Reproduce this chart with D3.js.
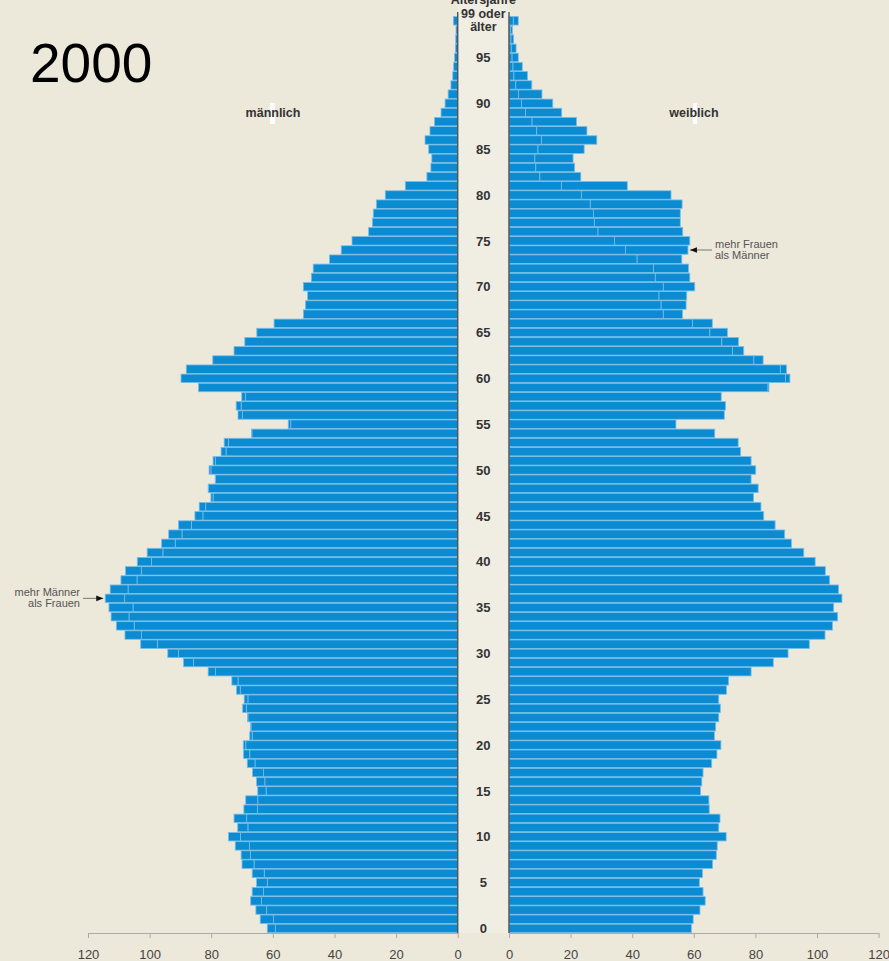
<!DOCTYPE html>
<html>
<head>
<meta charset="utf-8">
<script src="https://cdn.jsdelivr.net/npm/d3@7"></script>
<style>
  body { margin: 0; background: #ece8da; }
  svg { display: block; font-family: "Liberation Sans", Arial, sans-serif; }
</style>
</head>
<body>
<svg width="889" height="961"></svg>
<script>
// age 0 .. 99 (99 = "99 oder älter")
const ages = d3.range(0, 100)

// thousands, index = age
const males = [
  61.8, 64.1, 65.5, 67.2, 66.7, 65.3, 66.7, 70.0, 70.3, 72.2,
  74.4, 71.4, 72.6, 69.4, 68.8, 64.9, 65.3, 66.6, 68.3, 69.5,
  69.6, 67.5, 67.3, 68.2, 69.8, 69.3, 71.8, 73.3, 81.0, 89.0,
  94.1, 102.9, 108.0, 110.8, 112.5, 113.2, 114.4, 112.8, 109.3, 107.8,
  104.0, 100.8, 96.1, 93.8, 90.6, 85.3, 83.9, 80.1, 81.0, 78.7,
  80.7, 79.4, 76.8, 75.8, 66.9, 55.0, 71.3, 71.9, 70.1, 84.1,
  89.8, 88.1, 79.5, 72.6, 69.1, 65.2, 59.6, 50.1, 49.4, 48.7,
  50.1, 47.5, 46.9, 41.6, 37.8, 34.3, 28.9, 27.7, 27.4, 26.4,
  23.5, 17.0, 10.0, 8.7, 8.4, 9.4, 10.6, 9.0, 7.5, 5.4,
  4.1, 3.1, 2.2, 1.6, 1.3, 1.0, 0.75, 0.65, 0.55, 1.4
]
const females = [
  59.2, 59.8, 62.0, 63.7, 63.0, 61.8, 62.8, 66.1, 67.3, 67.6,
  70.5, 68.1, 68.5, 65.0, 64.9, 62.2, 62.6, 63.0, 65.8, 67.5,
  68.8, 66.7, 67.1, 68.1, 68.6, 68.1, 70.6, 71.3, 78.6, 85.8,
  90.6, 97.5, 102.6, 105.0, 106.7, 105.4, 108.1, 107.0, 104.1, 102.7,
  99.4, 95.7, 91.7, 89.5, 86.4, 82.7, 81.8, 79.4, 80.9, 78.6,
  80.1, 78.6, 75.2, 74.4, 66.8, 54.2, 69.9, 70.3, 68.9, 84.4,
  91.2, 90.1, 82.5, 76.2, 74.5, 70.9, 66.0, 56.3, 57.5, 57.7,
  60.3, 58.7, 58.3, 56.1, 58.1, 58.7, 56.4, 55.6, 55.6, 56.2,
  52.6, 38.4, 23.3, 21.3, 20.8, 24.4, 28.5, 25.3, 21.9, 17.1,
  14.2, 10.7, 7.4, 6.0, 4.3, 3.0, 2.3, 1.5, 1.1, 3.0
]

const ageTicks = [0, 5, 10, 15, 20, 25, 30, 35, 40, 45, 50, 55, 60, 65, 70, 75, 80, 85, 90, 95]
const valueTicks = [0, 20, 40, 60, 80, 100, 120]

let svg = d3.select("svg")

let y = d3.scaleBand().domain(ages).range([932.6, 16.6]).paddingInner(0.08)
let xM = d3.scaleLinear().domain([0, 120]).range([457.7, 88])
let xF = d3.scaleLinear().domain([0, 120]).range([509, 878.6])

const blue = "#0a8bd2"
const edge = "#76bde9"

// middle strip
svg.append("rect")
  .attr("x", xM(0)).attr("y", 0)
  .attr("width", xF(0) - xM(0)).attr("height", 933)
  .attr("fill", "#f0ede3")

let rows = ages.map(a => ({age: a, m: males[a], f: females[a], lo: Math.min(males[a], females[a])}))

function drawSide(x, key, cls) {
  let g = svg.append("g").attr("class", cls)
  // common part up to the smaller value
  g.selectAll("rect.base")
    .data(rows)
    .enter().append("rect")
      .attr("class", "base")
      .attr("x", d => Math.min(x(0), x(d.lo)))
      .attr("width", d => Math.abs(x(d.lo) - x(0)))
      .attr("y", d => y(d.age))
      .attr("height", y.bandwidth())
      .attr("fill", blue)
      .attr("stroke", edge)
      .attr("stroke-width", 0.8)
  // surplus beyond the other sex
  g.selectAll("rect.extra")
    .data(rows.filter(d => d[key] > d.lo))
    .enter().append("rect")
      .attr("class", "extra")
      .attr("x", d => Math.min(x(d.lo), x(d[key])))
      .attr("width", d => Math.abs(x(d[key]) - x(d.lo)))
      .attr("y", d => y(d.age))
      .attr("height", y.bandwidth())
      .attr("fill", blue)
      .attr("stroke", edge)
      .attr("stroke-width", 0.8)
}
drawSide(xM, "m", "male")
drawSide(xF, "f", "female")

// dark inner edges
;[xM(0), xF(0)].forEach(px => {
  svg.append("line")
    .attr("x1", px).attr("x2", px)
    .attr("y1", 12).attr("y2", 933)
    .attr("stroke", "#555").attr("stroke-width", 1.4)
})

// age labels in the middle
let midX = (xM(0) + xF(0)) / 2
svg.append("g").selectAll("text")
  .data(ageTicks)
  .enter().append("text")
    .attr("x", midX)
    .attr("y", d => y(d) + y.bandwidth() / 2)
    .attr("dy", "0.36em")
    .attr("text-anchor", "middle")
    .attr("font-size", 13)
    .attr("font-weight", "bold")
    .attr("fill", "#333")
    .text(d => d)

let topLabels = svg.append("g").attr("text-anchor", "middle").attr("font-weight", "bold")
  .attr("font-size", 12.5).attr("fill", "#333")
topLabels.append("text").attr("x", midX).attr("y", 4).text("Altersjahre")
topLabels.append("text").attr("x", midX).attr("y", 18).text("99 oder")
topLabels.append("text").attr("x", midX).attr("y", 31).text("älter")

// bottom axes
function axis(x) {
  let g = svg.append("g")
    .attr("transform", "translate(0,933)")
    .call(d3.axisBottom(x).tickValues(valueTicks).tickSize(5).tickPadding(12).tickSizeOuter(0))
  g.select(".domain").attr("stroke", "#aaa")
  g.selectAll(".tick line").attr("stroke", "#aaa")
  g.selectAll(".tick text").attr("fill", "#444").attr("font-size", 13)
    .attr("font-family", "Liberation Sans, Arial, sans-serif")
}
axis(xM)
axis(xF)

// sex labels
svg.append("rect").attr("x", 270).attr("y", 103).attr("width", 5).attr("height", 21).attr("fill", "#fff")
svg.append("rect").attr("x", 693).attr("y", 103).attr("width", 4).attr("height", 21).attr("fill", "#fff")
svg.append("text").attr("x", 273).attr("y", 117).attr("text-anchor", "middle")
  .attr("font-size", 12.5).attr("font-weight", "bold").attr("fill", "#333").text("männlich")
svg.append("text").attr("x", 694).attr("y", 117).attr("text-anchor", "middle")
  .attr("font-size", 12.5).attr("font-weight", "bold").attr("fill", "#333").text("weiblich")

// annotations
svg.append("defs").append("marker")
  .attr("id", "arrow").attr("viewBox", "0 0 10 10")
  .attr("refX", 10).attr("refY", 5)
  .attr("markerWidth", 7).attr("markerHeight", 7)
  .attr("orient", "auto-start-reverse")
  .append("path").attr("d", "M0,1L10,5L0,9Z").attr("fill", "#111")

let yM = y(36) + y.bandwidth() / 2
let tipM = xM(males[36]) - 2
svg.append("line").attr("x1", 83).attr("x2", tipM).attr("y1", yM).attr("y2", yM)
  .attr("stroke", "#777").attr("stroke-width", 1).attr("marker-end", "url(#arrow)")
let annM = svg.append("text").attr("text-anchor", "end").attr("font-size", 11).attr("fill", "#555")
annM.append("tspan").attr("x", 80).attr("y", yM - 2).text("mehr Männer")
annM.append("tspan").attr("x", 80).attr("y", yM + 9).text("als Frauen")

let yF = y(74) + y.bandwidth() / 2
let tipF = xF(females[74]) + 2
svg.append("line").attr("x1", 712).attr("x2", tipF).attr("y1", yF).attr("y2", yF)
  .attr("stroke", "#777").attr("stroke-width", 1).attr("marker-end", "url(#arrow)")
let annF = svg.append("text").attr("text-anchor", "start").attr("font-size", 11).attr("fill", "#555")
annF.append("tspan").attr("x", 715).attr("y", yF - 2).text("mehr Frauen")
annF.append("tspan").attr("x", 715).attr("y", yF + 9).text("als Männer")

// year
svg.append("text").attr("x", 30).attr("y", 82)
  .attr("font-size", 55).attr("fill", "#000").text("2000")
</script>
</body>
</html>
